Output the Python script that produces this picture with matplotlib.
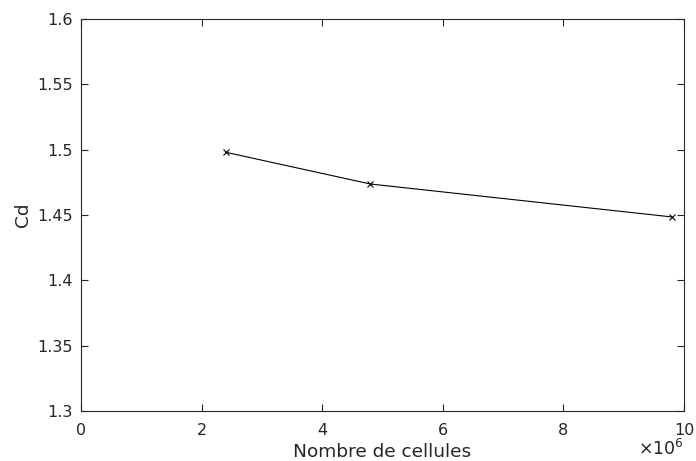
import matplotlib
matplotlib.use("Agg")
import matplotlib.pyplot as plt

# mesh sizes (millions of cells) and drag coefficient
cells = [2.4, 4.8, 9.8]
cd = [1.498, 1.4737, 1.4485]

xticks = [0, 2, 4, 6, 8, 10]
xtick_labels = ["0", "2", "4", "6", "8", "10"]
yticks = [1.3, 1.35, 1.4, 1.45, 1.5, 1.55, 1.6]
ytick_labels = ["1.3", "1.35", "1.4", "1.45", "1.5", "1.55", "1.6"]

dark = "#262626"

fig = plt.figure(figsize=(6.96, 4.61), dpi=100)
ax = fig.add_axes([0.1164, 0.1085, 0.8664, 0.8503])

ax.plot(cells, cd, color="black", linewidth=0.8, marker="x",
        markersize=5, markeredgewidth=0.8)

ax.set_xlim(0, 10)
ax.set_ylim(1.3, 1.6)
ax.set_xticks(xticks)
ax.set_xticklabels(xtick_labels)
ax.set_yticks(yticks)
ax.set_yticklabels(ytick_labels)

ax.tick_params(direction="in", top=True, right=True, length=5, width=0.8,
               labelsize=11.5, colors=dark)
ax.tick_params(axis="x", pad=9)
ax.tick_params(axis="y", pad=6)
for s in ax.spines.values():
    s.set_color(dark)
    s.set_linewidth(0.8)

ax.set_xlabel("Nombre de cellules", fontsize=13.3, color=dark, labelpad=3)
ax.set_ylabel("Cd", fontsize=13.3, color=dark, labelpad=4)

fig.text(0.982, 0.004, r"$\times10^{6}$", ha="right", va="bottom",
         fontsize=12.5, color=dark)

fig.savefig("out.png", dpi=100)
